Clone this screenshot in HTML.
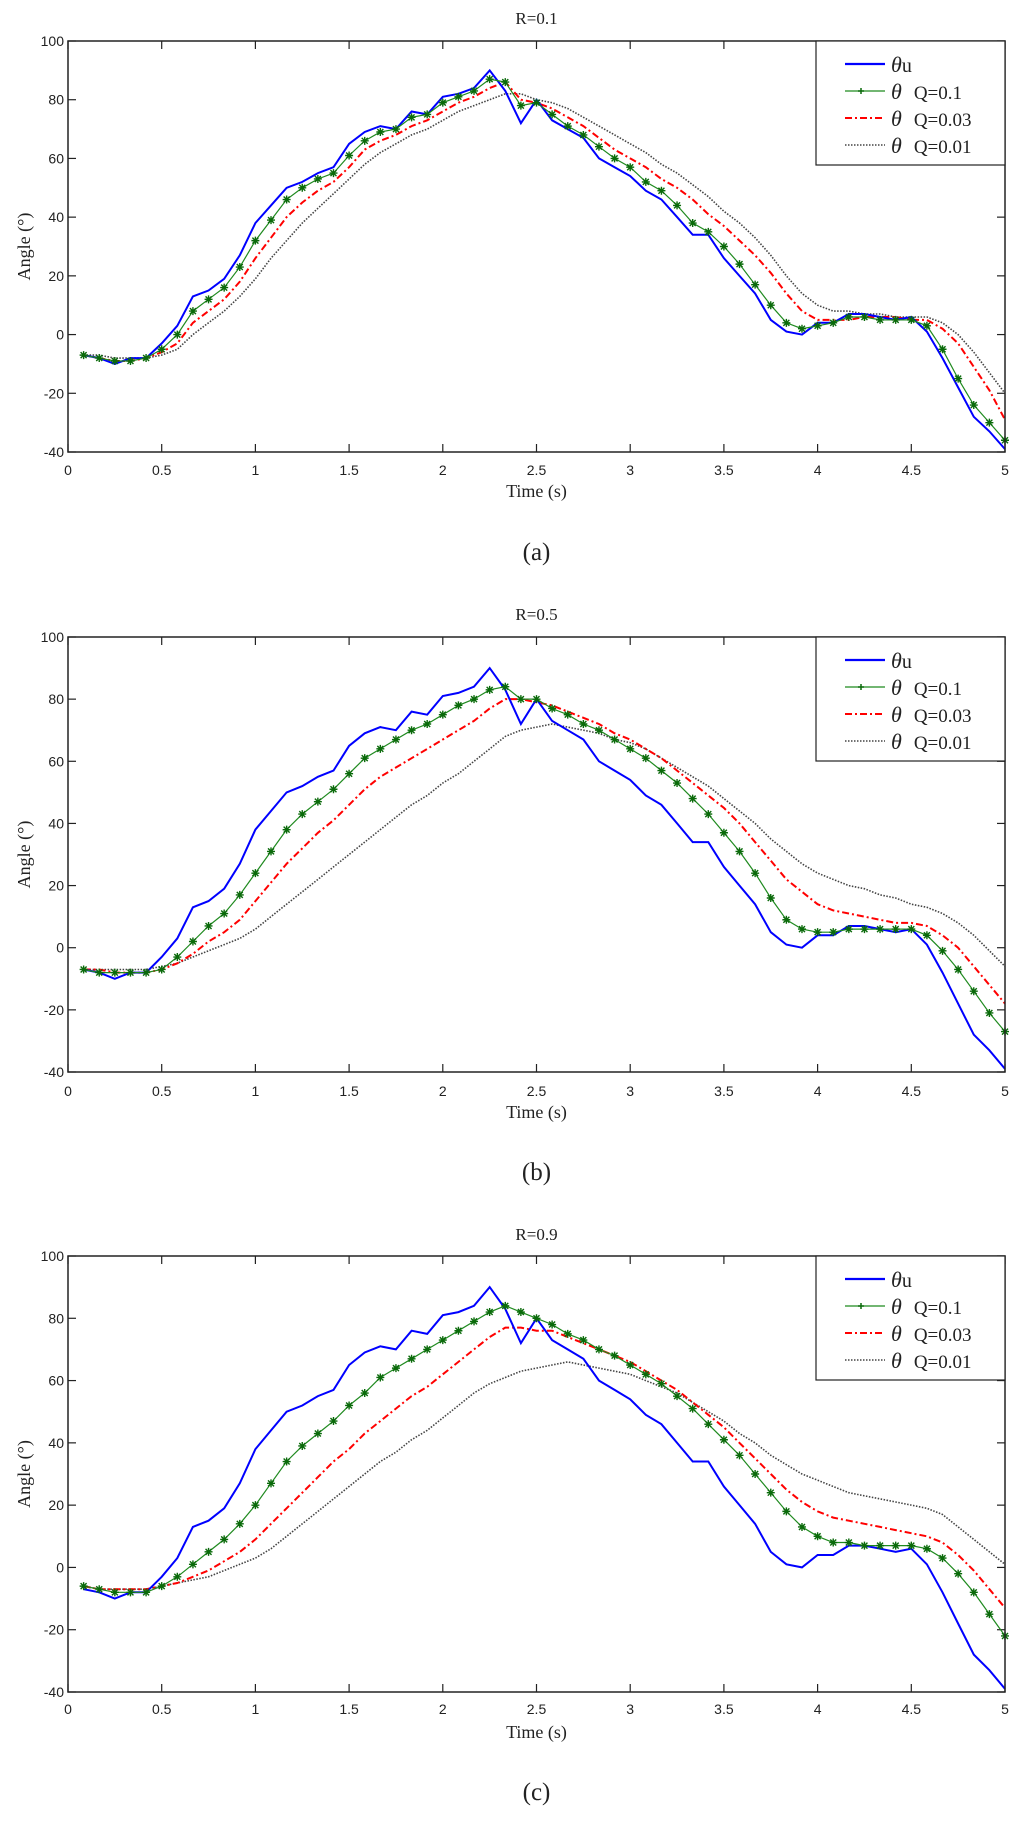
<!DOCTYPE html>
<html><head><meta charset="utf-8">
<style>
html,body{margin:0;padding:0;background:#fff;}
svg{display:block;}
text{font-family:"Liberation Sans",sans-serif;fill:#222;}
.serif{font-family:"Liberation Serif",serif;}
</style></head>
<body>
<svg id="chart" width="1024" height="1821" viewBox="0 0 1024 1821" xmlns="http://www.w3.org/2000/svg"></svg>
<script>
const xTicks = [0,0.5,1,1.5,2,2.5,3,3.5,4,4.5,5];
const xTickLabels = ["0","0.5","1","1.5","2","2.5","3","3.5","4","4.5","5"];
const yTicks = [100,80,60,40,20,0,-20,-40];
const panelTitles = ["R=0.1","R=0.5","R=0.9"];
const panelLetters = ["(a)","(b)","(c)"];
const legendLabels = ["Q=0.1","Q=0.03","Q=0.01"];
const times = Array.from({length:60},(_,i)=>(i+1)/12);
const thetaU = [-7,-8,-10,-8,-8,-3,3,13,15,19,27,38,44,50,52,55,57,65,69,71,70,76,75,81,82,84,90,83,72,80,73,70,67,60,57,54,49,46,40,34,34,26,20,14,5,1,0,4,4,7,7,6,5,6,1,-8,-18,-28,-33,-39];
const a_q1 = [-7,-8,-9,-9,-8,-5,0,8,12,16,23,32,39,46,50,53,55,61,66,69,70,74,75,79,81,83,87,86,78,79,75,71,68,64,60,57,52,49,44,38,35,30,24,17,10,4,2,3,4,6,6,5,5,5,3,-5,-15,-24,-30,-36];
const a_q03 = [-7,-8,-9,-9,-8,-6,-3,4,8,12,18,26,33,40,45,49,52,57,63,66,68,71,73,76,79,81,84,86,80,79,77,74,71,67,63,60,57,53,50,46,41,37,32,27,21,14,8,5,5,5,6,6,6,5,5,2,-3,-11,-19,-29];
const a_q01 = [-7,-7,-8,-8,-8,-7,-5,0,4,8,13,19,26,32,38,43,48,53,58,62,65,68,70,73,76,78,80,82,82,80,79,77,74,71,68,65,62,58,55,51,47,42,38,33,27,20,14,10,8,8,7,7,6,6,6,4,0,-6,-13,-20];
const b_q1 = [-7,-8,-8,-8,-8,-7,-3,2,7,11,17,24,31,38,43,47,51,56,61,64,67,70,72,75,78,80,83,84,80,80,77,75,72,70,67,64,61,57,53,48,43,37,31,24,16,9,6,5,5,6,6,6,6,6,4,-1,-7,-14,-21,-27];
const b_q03 = [-7,-7,-8,-8,-8,-7,-5,-2,2,5,9,15,21,27,32,37,41,46,51,55,58,61,64,67,70,73,77,80,80,79,78,76,74,72,69,67,64,61,57,53,49,45,40,34,28,22,18,14,12,11,10,9,8,8,7,4,0,-6,-12,-18];
const b_q01 = [-7,-7,-7,-7,-7,-6,-5,-3,-1,1,3,6,10,14,18,22,26,30,34,38,42,46,49,53,56,60,64,68,70,71,72,71,70,69,67,66,64,61,58,55,52,48,44,40,35,31,27,24,22,20,19,17,16,14,13,11,8,4,-1,-6];
const c_q1 = [-6,-7,-8,-8,-8,-6,-3,1,5,9,14,20,27,34,39,43,47,52,56,61,64,67,70,73,76,79,82,84,82,80,78,75,73,70,68,65,62,59,55,51,46,41,36,30,24,18,13,10,8,8,7,7,7,7,6,3,-2,-8,-15,-22];
const c_q03 = [-6,-7,-7,-7,-7,-6,-5,-3,-1,2,5,9,14,19,24,29,34,38,43,47,51,55,58,62,66,70,74,77,77,76,76,74,72,70,68,66,63,60,57,53,49,45,40,35,30,25,21,18,16,15,14,13,12,11,10,8,4,-1,-7,-13];
const c_q01 = [-6,-7,-7,-7,-7,-6,-5,-4,-3,-1,1,3,6,10,14,18,22,26,30,34,37,41,44,48,52,56,59,61,63,64,65,66,65,64,63,62,60,58,56,53,50,47,43,40,36,33,30,28,26,24,23,22,21,20,19,17,13,9,5,1];

const NS="http://www.w3.org/2000/svg";
const svg=document.getElementById('chart');
function mk(tag,attrs,parent){const e=document.createElementNS(NS,tag);for(const k in attrs)e.setAttribute(k,attrs[k]);(parent||svg).appendChild(e);return e;}

const X0=68,X1=1005;
const panels=[
 {top:41,bot:452,titleY:24,tickY:470,labY:497,letY:560,series:[a_q1,a_q03,a_q01]},
 {top:637,bot:1072,titleY:620,tickY:1091,labY:1118,letY:1180,series:[b_q1,b_q03,b_q01]},
 {top:1256,bot:1692,titleY:1240,tickY:1709,labY:1738,letY:1800,series:[c_q1,c_q03,c_q01]}
];
function xs(t){return X0+(t-0)/(5-0)*(X1-X0);}

panels.forEach((p,pi)=>{
 const g=mk('g',{});
 
 
 const ys=v=>p.top+(100-v)/140*(p.bot-p.top);
 const title=mk('text',{x:(X0+X1)/2,y:p.titleY,'text-anchor':'middle','font-size':'17',class:'serif'},g);
 title.textContent=panelTitles[pi];
 
 
 // ticks
 xTicks.forEach((t,i)=>{
  const x=xs(t);
  mk('line',{x1:x,x2:x,y1:p.bot,y2:p.bot-8,stroke:'#222','stroke-width':1.2},g);
  mk('line',{x1:x,x2:x,y1:p.top,y2:p.top+8,stroke:'#222','stroke-width':1.2},g);
  const tl=mk('text',{x:x,y:p.tickY+5,'text-anchor':'middle','font-size':'14'},g);
  tl.textContent=xTickLabels[i];
  
  
 });
 yTicks.forEach(v=>{
  const y=ys(v);
  mk('line',{x1:X0,x2:X0+8,y1:y,y2:y,stroke:'#222','stroke-width':1.2},g);
  mk('line',{x1:X1,x2:X1-8,y1:y,y2:y,stroke:'#222','stroke-width':1.2},g);
  const tl=mk('text',{x:X0-4,y:y+5,'text-anchor':'end','font-size':'14'},g);
  tl.textContent=String(v);
  
  
 });
 const xl=mk('text',{x:(X0+X1)/2,y:p.labY,'text-anchor':'middle','font-size':'18',class:'serif'},g);
 xl.textContent='Time (s)';
 
 
 const cy=(p.top+p.bot)/2;
 const yl=mk('text',{x:30,y:cy,'text-anchor':'middle','font-size':'18',class:'serif',transform:`rotate(-90 30 ${cy})`},g);
 yl.textContent='Angle (°)';
 
 
 const lt=mk('text',{x:(X0+X1)/2,y:p.letY,'text-anchor':'middle','font-size':'25',class:'serif'},g);
 lt.textContent=panelLetters[pi];
 
 

 const pts=arr=>arr.map((v,i)=>xs(times[i]).toFixed(1)+','+ys(v).toFixed(1)).join(' ');
 const [q1,q03,q01]=p.series;
 const l4=mk('polyline',{points:pts(q01),fill:'none',stroke:'#444','stroke-width':1.6,'stroke-dasharray':'1.5 1.5'},g);
 
 
 const l3=mk('polyline',{points:pts(q03),fill:'none',stroke:'#f00','stroke-width':2,'stroke-dasharray':'7 3 2 3'},g);
 
 
 const l1=mk('polyline',{points:pts(thetaU),fill:'none',stroke:'#0000ff','stroke-width':2},g);
 
 
 const l2=mk('polyline',{points:pts(q1),fill:'none',stroke:'#1f8a1f','stroke-width':1.2},g);
 
 
 q1.forEach((v,i)=>{
  const x=xs(times[i]),y=ys(v),r=4;
  const m=mk('path',{d:`M${x-r},${y}H${x+r}M${x},${y-r}V${y+r}M${x-3},${y-3}L${x+3},${y+3}M${x-3},${y+3}L${x+3},${y-3}`,stroke:'#0a6a0a','stroke-width':1.4},g);
  
  
 });
 // frame
 const fr=mk('rect',{x:X0,y:p.top,width:X1-X0,height:p.bot-p.top,fill:'none',stroke:'#222','stroke-width':1.5},g);
 
 
 // legend
 const lg=mk('g',{},g);
 
 
 mk('rect',{x:816,y:p.top,width:X1-816,height:124,fill:'#fff',stroke:'#222','stroke-width':1.2},lg);
 const rows=[p.top+23,p.top+50,p.top+77,p.top+104];
 mk('line',{x1:845,x2:885,y1:rows[0],y2:rows[0],stroke:'#0000ff','stroke-width':2.2},lg);
 mk('line',{x1:845,x2:885,y1:rows[1],y2:rows[1],stroke:'#1f8a1f','stroke-width':1.2},lg);
 mk('path',{d:`M861,${rows[1]-3}V${rows[1]+3}M858,${rows[1]}H864`,stroke:'#0a6a0a','stroke-width':1.5},lg);
 mk('line',{x1:845,x2:885,y1:rows[2],y2:rows[2],stroke:'#f00','stroke-width':2,'stroke-dasharray':'7 3 2 3'},lg);
 mk('line',{x1:845,x2:885,y1:rows[3],y2:rows[3],stroke:'#444','stroke-width':1.6,'stroke-dasharray':'1.5 1.5'},lg);
 const e0=mk('text',{x:891,y:rows[0]+8,'font-size':'22',class:'serif'},lg);
 e0.innerHTML='<tspan font-style="italic">θ</tspan><tspan font-size="20">u</tspan>';
 
 
 legendLabels.forEach((lab,i)=>{
  const t=mk('text',{x:891,y:rows[i+1]+8,'font-size':'22',class:'serif'},lg);
  t.innerHTML='<tspan font-style="italic">θ</tspan><tspan dx="12" font-size="19">'+lab+'</tspan>';
  
  
 });
});
</script>
</body></html>
